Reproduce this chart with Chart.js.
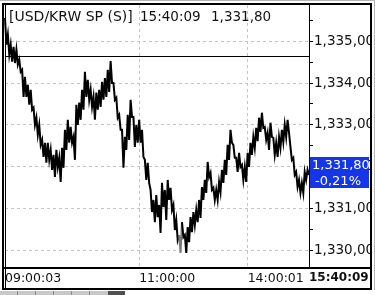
<!DOCTYPE html>
<html lang="ko">
<head>
<meta charset="UTF-8">
<title>USD/KRW SP</title>
<script src="https://cdn.jsdelivr.net/npm/chart.js"></script>
<style>
  html, body { margin: 0; padding: 0; background: #fff; }
</style>
</head>
<body>
<canvas id="fxChart" width="375" height="295"></canvas>
<script>
// tick highs / lows, one pair per sample
const highs = [1335.56, 1335.16, 1334.92, 1334.87, 1334.80, 1334.56, 1334.32, 1334.15, 1333.96, 1333.84,
  1333.41, 1333.17, 1333.00, 1332.64, 1332.57, 1332.57, 1332.40, 1332.28, 1332.40, 1332.21,
  1332.45, 1332.88, 1333.12, 1332.95, 1332.71, 1333.48, 1333.53, 1333.84, 1334.27, 1334.08,
  1333.84, 1333.67, 1333.77, 1333.84, 1334.03, 1334.12, 1334.32, 1334.53, 1334.00, 1333.65,
  1333.24, 1332.88, 1332.71, 1333.24, 1333.60, 1333.19, 1333.00, 1333.12, 1332.88, 1332.16,
  1332.09, 1331.44, 1331.20, 1331.32, 1331.08, 1331.61, 1331.44, 1331.68, 1331.49, 1331.08,
  1330.72, 1330.36, 1330.67, 1330.36, 1330.55, 1330.79, 1330.91, 1330.96, 1331.20, 1331.51,
  1331.68, 1332.11, 1331.85, 1331.49, 1331.44, 1331.63, 1331.92, 1332.16, 1332.52, 1332.88,
  1332.52, 1332.21, 1332.33, 1332.04, 1331.99, 1332.33, 1332.57, 1332.71, 1332.93, 1333.17,
  1333.29, 1332.95, 1332.81, 1333.05, 1332.69, 1332.57, 1332.71, 1332.88, 1333.00, 1333.12,
  1332.47, 1332.21, 1331.87, 1331.68, 1331.61, 1331.87, 1331.92];
const lows = [1334.92, 1334.68, 1334.51, 1334.48, 1334.44, 1334.27, 1333.67, 1333.67, 1333.48, 1333.36,
  1333.00, 1332.76, 1332.52, 1332.23, 1332.09, 1332.16, 1331.92, 1331.75, 1331.99, 1331.63,
  1331.97, 1332.40, 1332.57, 1332.57, 1332.16, 1333.00, 1333.12, 1333.36, 1333.67, 1333.60,
  1333.43, 1333.12, 1333.36, 1333.43, 1333.60, 1333.67, 1333.79, 1334.00, 1333.60, 1333.17,
  1332.88, 1331.97, 1332.40, 1332.64, 1333.19, 1332.47, 1332.57, 1332.57, 1332.23, 1331.68,
  1331.61, 1330.91, 1330.67, 1330.79, 1330.41, 1331.03, 1330.72, 1331.20, 1330.96, 1330.48,
  1330.24, 1329.93, 1330.31, 1329.93, 1330.19, 1330.43, 1330.60, 1330.67, 1330.77, 1331.20,
  1331.37, 1331.75, 1331.44, 1331.20, 1331.20, 1331.39, 1331.61, 1331.80, 1332.16, 1332.57,
  1332.21, 1331.87, 1331.99, 1331.68, 1331.63, 1331.99, 1332.28, 1332.45, 1332.61, 1332.83,
  1332.93, 1332.64, 1332.40, 1332.71, 1332.28, 1332.23, 1332.45, 1332.59, 1332.71, 1332.81,
  1332.16, 1331.80, 1331.51, 1331.37, 1331.37, 1331.68, 1331.80];

const timeLabels = ['09:00:03', '11:00:00', '14:00:01', '15:40:09'];
const timeLabelSample = [0, 47, 85, 106];

const prevClose = 1334.65;
const lastPrice = 1331.80;
const headerName = '[USD/KRW SP (S)]';
const lastTime = '15:40:09';
const yMin = 1329.57;
const yMax = 1335.87;

// interleave high/low into one tick path
const prices = [];
const cats = [];
highs.forEach((h, i) => {
  prices.push(h, lows[i]);
  cats.push('', '');
});
timeLabels.forEach((t, k) => {
  const s = timeLabelSample[k];
  const j = (k === timeLabels.length - 1) ? prices.length - 1 : s * 2;
  cats[j] = t;
});
const lastIdx = prices.length - 1;

function fmt(v) {
  const parts = v.toFixed(2).split('.');
  return parts[0].replace(/\B(?=(\d{3})+(?!\d))/g, ',') + ',' + parts[1];
}
const isStep = (v, s) => Math.abs(v / s - Math.round(v / s)) < 1e-6;

const frame = {
  id: 'frame',
  beforeDatasetsDraw(chart) {
    const { ctx, chartArea: a, scales: { y } } = chart;
    const py = Math.round(y.getPixelForValue(prevClose)) + 0.5;
    ctx.save();
    ctx.strokeStyle = '#000';
    ctx.lineWidth = 1;
    ctx.beginPath();
    ctx.moveTo(a.left, py);
    ctx.lineTo(a.right, py);
    ctx.stroke();
    ctx.restore();
  },
  afterDatasetsDraw(chart) {
    const { ctx } = chart;
    ctx.save();
    ctx.fillStyle = '#111';
    ctx.textBaseline = 'alphabetic';
    ctx.font = '14px "DejaVu Sans"';
    ctx.fillText(headerName, 9, 21);
    ctx.font = '13.5px "DejaVu Sans"';
    ctx.fillText(lastTime, 140, 21);
    ctx.fillText(fmt(lastPrice), 211, 21);
    ctx.restore();
  },
  afterDraw(chart) {
    const { ctx, chartArea: a, scales: { y } } = chart;
    ctx.save();
    // clip overflowing axis text on the right
    ctx.fillStyle = '#fff';
    ctx.fillRect(370, 0, 5, 295);

    // current price box
    const py = y.getPixelForValue(lastPrice);
    const top = Math.round(py) - 18;
    ctx.fillStyle = '#1436e6';
    ctx.fillRect(310, top, 59, 31);
    ctx.fillStyle = '#fff';
    ctx.font = '13px "DejaVu Sans"';
    ctx.textBaseline = 'alphabetic';
    ctx.fillText(fmt(lastPrice), 312, top + 12);
    const pct = (lastPrice - prevClose) / prevClose * 100;
    ctx.fillText(pct.toFixed(2).replace('.', ',') + '%', 315, top + 28);

    // frame lines
    ctx.strokeStyle = '#000';
    ctx.lineWidth = 2;
    ctx.strokeRect(3, 4, 368, 285);
    ctx.beginPath();
    ctx.moveTo(3, 268);
    ctx.lineTo(371, 268);
    ctx.stroke();
    ctx.lineWidth = 1;
    ctx.beginPath();
    ctx.moveTo(a.right + 0.5, 4);
    ctx.lineTo(a.right + 0.5, 268);
    ctx.moveTo(5.5, 4);
    ctx.lineTo(5.5, 288);
    ctx.stroke();

    // outer edges and tab strip
    ctx.strokeStyle = '#b4b4b4';
    ctx.beginPath();
    ctx.moveTo(0, 0.5);
    ctx.lineTo(375, 0.5);
    ctx.moveTo(374.5, 0);
    ctx.lineTo(374.5, 290);
    ctx.stroke();
    ctx.fillStyle = '#c8c8c8';
    ctx.fillRect(0, 291, 108, 4);
    ctx.fillStyle = '#8a8a8a';
    [17, 35, 53, 71, 89].forEach(x => ctx.fillRect(x, 291, 1, 4));
    ctx.fillStyle = '#505050';
    ctx.fillRect(108, 291, 17, 4);
    ctx.restore();
  }
};

new Chart(document.getElementById('fxChart'), {
  type: 'line',
  data: {
    labels: cats,
    datasets: [{
      data: prices,
      borderColor: '#000',
      borderWidth: 2,
      pointRadius: 0,
      tension: 0,
      fill: false,
      segment: {
        // the day's low ticks are drawn grey in the source
        borderColor: c => (c.p1.parsed.y < 1330.0 || c.p0.parsed.y < 1330.0) && c.p0DataIndex < 126 ? '#7a7a7a' : undefined
      }
    }]
  },
  options: {
    responsive: false,
    animation: false,
    events: [],
    layout: { padding: { left: 5, top: 5, right: 0, bottom: 0 } },
    plugins: { legend: { display: false }, tooltip: { enabled: false } },
    scales: {
      x: {
        type: 'category',
        offset: false,
        afterFit(s) { s.height = 27; s.paddingLeft = 0; s.paddingRight = 0; },
        border: { display: false, dash: [3, 3] },
        grid: {
          drawTicks: false,
          color: c => (c.index > 0 && c.index < lastIdx && cats[c.index]) ? '#c4c4c4' : 'rgba(0,0,0,0)'
        },
        ticks: {
          autoSkip: false,
          maxRotation: 0,
          minRotation: 0,
          align: 'start',
          padding: 3,
          color: '#111',
          font: c => (c.index === lastIdx)
            ? { family: 'DejaVu Sans', size: 12, weight: 'bold' }
            : { family: 'DejaVu Sans', size: 12.5 }
        }
      },
      y: {
        position: 'right',
        min: yMin,
        max: yMax,
        afterFit(s) { s.width = 66; s.paddingTop = 0; s.paddingBottom = 0; },
        border: { display: false, dash: [3, 3] },
        grid: {
          tickLength: 4,
          tickColor: c => isStep(c.tick.value, 0.5) ? '#000' : 'rgba(0,0,0,0)',
          color: c => (c.tick && isStep(c.tick.value, 1)) ? '#c4c4c4' : 'rgba(0,0,0,0)'
        },
        ticks: {
          stepSize: 0.5,
          padding: 1,
          color: '#111',
          font: { family: 'DejaVu Sans', size: 13.5 },
          callback: v => isStep(v, 1) ? fmt(v) : ''
        }
      }
    }
  },
  plugins: [frame]
});
</script>
</body>
</html>
